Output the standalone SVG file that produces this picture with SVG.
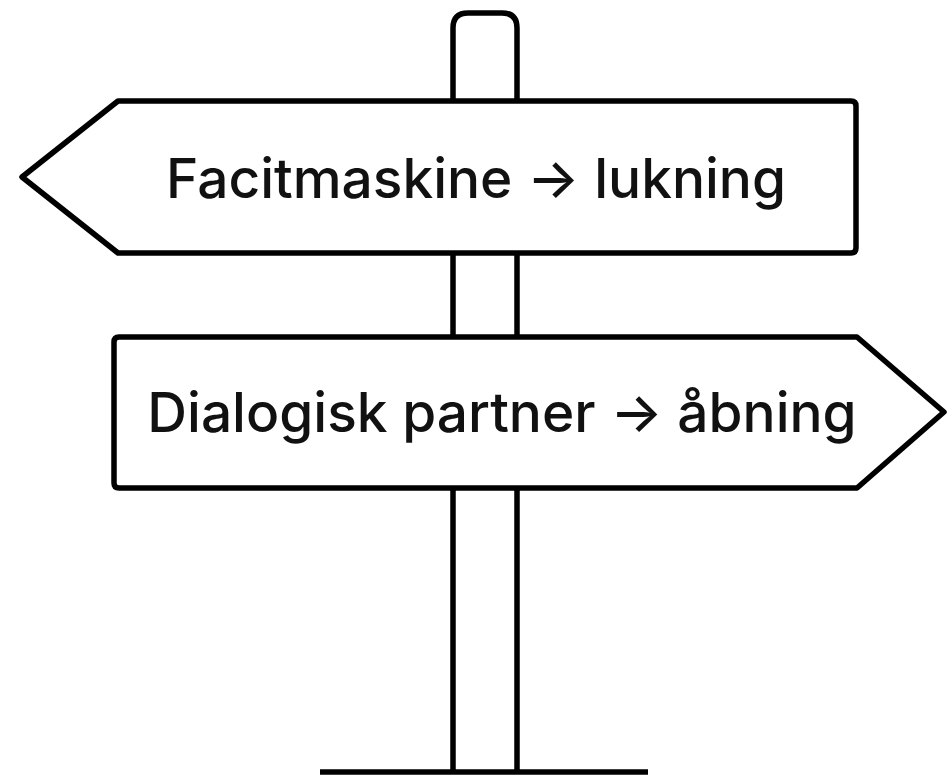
<svg xmlns="http://www.w3.org/2000/svg" width="947" height="776" viewBox="0 0 947 776">
<style>
.ln{fill:none;stroke:#000;stroke-width:5.5;stroke-linejoin:round;stroke-linecap:butt}
.sg{fill:#fff;stroke:#000;stroke-width:5.5;stroke-linejoin:round}
.tx{font-family:Inter,"Noto Sans",sans-serif;font-size:55px;font-weight:500;fill:#111;text-anchor:middle}
</style>
<rect width="947" height="776" fill="#fff"/>
<g id="post">
<path class="ln" d="M453,770 V28 Q453,13 468,13 H502 Q517,13 517,28 V770"/>
<line class="ln" x1="320" y1="772" x2="648" y2="772"/>
</g>
<g id="sign-top">
<path class="sg" d="M118,101 H851 Q856,101 856,106 V248 Q856,253 851,253 H118 L22,177 Z"/>
<text class="tx" x="476" y="198">Facitmaskine → lukning</text>
</g>
<g id="sign-bottom">
<path class="sg" d="M119,337 H857 L944,412 L857,488 H119 Q114,488 114,483 V342 Q114,337 119,337 Z"/>
<text class="tx" x="502" y="432">Dialogisk partner → åbning</text>
</g>
</svg>
